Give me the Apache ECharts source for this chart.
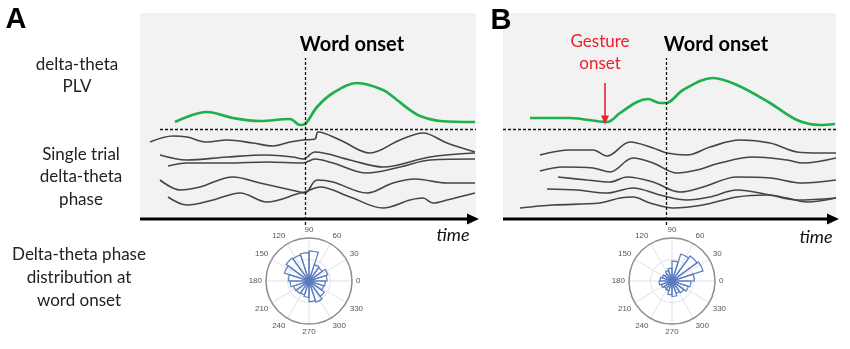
<!DOCTYPE html>
<html><head><meta charset="utf-8">
<script src="https://cdn.jsdelivr.net/npm/echarts@6/dist/echarts.min.js"></script>
<style>html,body{margin:0;padding:0;background:#fff}#c{width:850px;height:349px}</style>
</head><body><div id="c"></div>
<script>
// ---- time (ms relative to word onset) and amplitude (a.u.) ranges ----
const timeRangeA = [-825, 855];
const timeRangeB = [-815, 850];
const ampRange = [-10, 206];
const baselineAmp = 90;          // horizontal dashed baseline
const onsetLineTop = 161;        // top of word-onset dashed line
const onsetLineBottom = -6;
const dashStartA = -725;
const gestureOnsetB = -305;      // gesture onset time (panel B)
const gestureArrow = [136, 99];  // arrow from / to amplitude

// ---- PLV curves [time, amplitude] ----
const plvA = [[-650,97],[-490,107],[-360,101],[-225,98],[-75,100],[-25,94],[0,95],[60,112],[140,126],[260,136],[390,129],[460,119],[525,109],[575,103],[675,98],[850,97]];
const plvB = [[-680,101],[-480,101],[-295,97],[-230,106],[-145,117],[-90,120],[-30,116],[0,116],[85,129],[235,141],[355,134],[520,116],[655,99],[770,94],[845,95]];

// ---- single-trial phase traces, panel A ----
const trialA1 = [[-775,77],[-660,83],[-590,82],[-490,77],[-390,79],[-260,76],[-160,73],[-75,77],[-10,79],[50,80],[65,87],[175,79],[325,66],[475,79],[590,86],[710,76],[850,67]];
const trialA2 = [[-725,64],[-590,59],[-390,62],[-190,64],[-60,62],[-10,60],[50,67],[225,59],[390,52],[625,62],[850,66]];
const trialA3 = [[-685,53],[-590,56],[-390,56],[-190,57],[-10,56],[50,60],[140,56],[310,46],[475,52],[625,59],[850,60]];
const trialA4 = [[-725,39],[-625,29],[-525,32],[-360,42],[-225,36],[-25,27],[0,26],[60,39],[140,37],[310,26],[440,36],[550,40],[710,36],[850,36]];
const trialA5 = [[-685,22],[-590,14],[-460,19],[-325,26],[-190,17],[-25,26],[0,27],[75,32],[225,22],[390,11],[525,19],[590,21],[640,16],[710,19],[850,26]];

// ---- single-trial phase traces, panel B ----
const trialB1 = [[-630,64],[-480,69],[-365,69],[-295,63],[-180,77],[-65,71],[5,66],[105,64],[220,72],[370,79],[520,76],[655,67],[770,66],[850,66]];
const trialB2 = [[-630,48],[-515,52],[-365,51],[-280,47],[-165,61],[-65,56],[55,46],[155,49],[270,56],[435,62],[605,59],[685,56],[850,61]];
const trialB3 = [[-540,42],[-395,39],[-280,37],[-195,42],[-65,37],[70,27],[185,32],[355,42],[520,41],[685,36],[850,39]];
const trialB4 = [[-595,30],[-445,29],[-295,26],[-165,31],[-30,24],[105,19],[220,22],[355,29],[520,24],[655,19],[850,21]];
const trialB5 = [[-730,11],[-565,14],[-330,16],[-230,21],[-165,22],[-80,16],[35,11],[185,14],[355,22],[505,24],[605,21],[705,17],[850,21]];

// ---- rose histograms (20 bins of 18 deg) ----
const roseBins = ['0','18','36','54','72','90','108','126','144','162','180','198','216','234','252','270','288','306','324','342'];
const roseA = [4.2,4.6,3.8,4.0,7.0,6.6,6.4,6.6,6.0,4.8,4.4,3.8,3.6,3.4,3.8,4.8,5.2,4.4,3.6,3.8];
const roseB = [5.2,7.6,7.2,6.6,4.6,3.0,2.6,2.0,2.4,2.8,3.0,2.6,2.2,2.4,3.2,3.6,3.0,3.4,4.0,4.4];
const roseMax = 10;
const angleTickStep = 30;

const GREEN = '#1fb04e', GRAY = '#454545', RED = '#e8232f', BLUE = '#5a7cc0';
const FONT = 'Lato, "Open Sans", sans-serif';

const chart = echarts.init(document.getElementById('c'));

function trace(data, gi, color, width) {
  return { type:'line', xAxisIndex:gi, yAxisIndex:gi, data, smooth:0.35, showSymbol:false, symbol:'none',
    lineStyle:{ color, width }, z:3, silent:true, animation:false };
}
function frame(gi, range, dashStart, extraLines) {
  const dashStyle = { color:'#111', width:1.3, type:[3,2] };
  const lines = [
    [{ coord:[dashStart, baselineAmp] }, { coord:[range[1], baselineAmp] }],
    [{ coord:[0, onsetLineBottom] }, { coord:[0, onsetLineTop] }]
  ].concat(extraLines || []);
  return {
    type:'line', xAxisIndex:gi, yAxisIndex:gi, z:4, silent:true, animation:false,
    data:[{ value:[range[0],0], symbol:'none' }, { value:[range[1]-15,0], symbol:'triangle', symbolRotate:-90, symbolSize:[11,12] }],
    showSymbol:true, showAllSymbol:true,
    itemStyle:{ color:'#000' }, lineStyle:{ color:'#000', width:3 },
    markArea:{ silent:true, itemStyle:{ color:'#f2f2f2' }, data:[[{ coord:[range[0], 0] }, { coord:[range[1], ampRange[1]] }]] },
    markLine:{ silent:true, symbol:['none','none'], label:{ show:false }, lineStyle:dashStyle, animation:false, data:lines }
  };
}

const gestureArrowLine = [{ coord:[gestureOnsetB, gestureArrow[0]], symbol:'none', lineStyle:{ color:RED, width:1.6, type:'solid' } },
                          { coord:[gestureOnsetB, gestureArrow[1]], symbol:'triangle', symbolSize:[8,9], symbolRotate:180 }];

function anglePolar(pi) {
  return { polarIndex:pi, type:'value', min:0, max:360, interval:angleTickStep, startAngle:0, clockwise:false,
    axisLine:{ show:true, lineStyle:{ color:'#8f8f8f', width:1.5 } },
    axisTick:{ show:false },
    splitLine:{ show:true, lineStyle:{ color:'#e3e3e3', width:1 } },
    axisLabel:{ fontSize:8, color:'#555', margin:4, fontFamily:'"Liberation Sans", sans-serif', formatter:v => v === 360 ? '' : String(v) } };
}
function radiusPolar(pi) {
  return { polarIndex:pi, type:'value', min:0, max:roseMax, interval:roseMax/2,
    axisLine:{ show:false }, axisTick:{ show:false }, axisLabel:{ show:false },
    splitLine:{ show:true, lineStyle:{ color:'#dbe3f2', width:1 } } };
}
function binAngle(pi) {
  return { polarIndex:pi, type:'category', data:roseBins, startAngle:0, clockwise:false, boundaryGap:true,
    axisLine:{ show:false }, axisTick:{ show:false }, axisLabel:{ show:false }, splitLine:{ show:false } };
}
function binRadius(pi) {
  return { polarIndex:pi, type:'value', min:0, max:roseMax,
    axisLine:{ show:false }, axisTick:{ show:false }, axisLabel:{ show:false }, splitLine:{ show:false } };
}
function rose(pi, data) {
  return { type:'bar', coordinateSystem:'polar', polarIndex:pi, data, barWidth:'100%', barCategoryGap:'0%', z:3, silent:true, animation:false,
    itemStyle:{ color:'rgba(255,255,255,0)', borderColor:BLUE, borderWidth:1.2 } };
}

function txt(x, y, text, font, fill, align) {
  return { type:'text', x, y, z:100, silent:true, style:{ text, font, fill:fill || '#222', align:align || 'center', verticalAlign:'middle' } };
}

chart.setOption({
  animation:false,
  backgroundColor:'#fff',
  grid:[
    { left:140, top:13, width:336, height:216 },
    { left:503, top:13, width:333, height:216 }
  ],
  xAxis:[
    { gridIndex:0, type:'value', min:timeRangeA[0], max:timeRangeA[1], show:false },
    { gridIndex:1, type:'value', min:timeRangeB[0], max:timeRangeB[1], show:false }
  ],
  yAxis:[
    { gridIndex:0, type:'value', min:ampRange[0], max:ampRange[1], show:false },
    { gridIndex:1, type:'value', min:ampRange[0], max:ampRange[1], show:false }
  ],
  polar:[
    { center:[309,281], radius:43 },
    { center:[309,281], radius:43 },
    { center:[672,281], radius:43 },
    { center:[672,281], radius:43 }
  ],
  angleAxis:[anglePolar(0), binAngle(1), anglePolar(2), binAngle(3)],
  radiusAxis:[radiusPolar(0), binRadius(1), radiusPolar(2), binRadius(3)],
  series:[
    frame(0, timeRangeA, dashStartA),
    trace(trialA1,0,GRAY,1.6), trace(trialA2,0,GRAY,1.6), trace(trialA3,0,GRAY,1.6), trace(trialA4,0,GRAY,1.6), trace(trialA5,0,GRAY,1.6),
    trace(plvA,0,GREEN,2.7),
    frame(1, timeRangeB, timeRangeB[0], [gestureArrowLine]),
    trace(trialB1,1,GRAY,1.6), trace(trialB2,1,GRAY,1.6), trace(trialB3,1,GRAY,1.6), trace(trialB4,1,GRAY,1.6), trace(trialB5,1,GRAY,1.6),
    trace(plvB,1,GREEN,2.7),
    rose(1, roseA),
    rose(3, roseB)
  ],
  graphic:{ elements:[
    txt(16, 20, 'A', 'bold 29px "Liberation Sans", Arial, sans-serif', '#000'),
    txt(501, 21, 'B', 'bold 29px "Liberation Sans", Arial, sans-serif', '#000'),
    txt(77, 65, 'delta-theta', '17px ' + FONT),
    txt(77, 87, 'PLV', '17px ' + FONT),
    txt(81, 155, 'Single trial', '17px ' + FONT),
    txt(81, 177, 'delta-theta', '17px ' + FONT),
    txt(81, 200, 'phase', '17px ' + FONT),
    txt(79, 255, 'Delta-theta phase', '17px ' + FONT),
    txt(79, 278, 'distribution at', '17px ' + FONT),
    txt(79, 301, 'word onset', '17px ' + FONT),
    txt(352, 45, 'Word onset', 'bold 20px ' + FONT, '#000'),
    txt(716, 45, 'Word onset', 'bold 20px ' + FONT, '#000'),
    txt(600, 42, 'Gesture', '17px ' + FONT, RED),
    txt(600, 64, 'onset', '17px ' + FONT, RED),
    txt(453, 235, 'time', 'italic 18px ' + FONT, '#111'),
    txt(816, 237, 'time', 'italic 18px ' + FONT, '#111')
  ]}
});
</script></body></html>
